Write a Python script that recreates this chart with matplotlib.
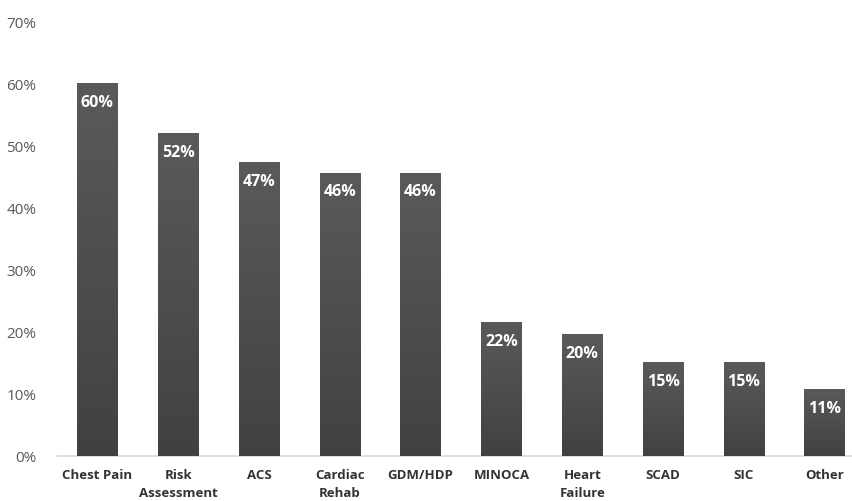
import numpy as np
import matplotlib
matplotlib.use("Agg")
import matplotlib.pyplot as plt
from matplotlib.colors import LinearSegmentedColormap

# data
categories = ["Chest Pain", "Risk\nAssessment", "ACS", "Cardiac\nRehab", "GDM/HDP",
              "MINOCA", "Heart\nFailure", "SCAD", "SIC", "Other"]
values = [60.0, 52.0, 47.3, 45.6, 45.6, 21.6, 19.6, 15.1, 15.1, 10.8]
labels = ["60%", "52%", "47%", "46%", "46%", "22%", "20%", "15%", "15%", "11%"]
yticks = [0, 10, 20, 30, 40, 50, 60, 70]

plt.rcParams['font.family'] = ['Open Sans', 'DejaVu Sans']

fig = plt.figure(figsize=(8.53, 5.02), dpi=100)
ax = fig.add_axes([57 / 853, 1 - 457 / 502, 808 / 853, 435 / 502])

x = np.arange(len(categories))
bars = ax.bar(x, values, width=0.5, color="#4d4d4d", zorder=2)

# soft vertical gradient inside each bar
cmap = LinearSegmentedColormap.from_list("g", ["#414141", "#5a5a5a"])
grad = np.linspace(0, 1, 256).reshape(-1, 1)
for b in bars:
    x0, w, h = b.get_x(), b.get_width(), b.get_height()
    im = ax.imshow(grad, cmap=cmap, aspect="auto", origin="lower",
                   extent=[x0, x0 + w, 0, h], zorder=3)
    im.set_clip_path(b)

for xi, v, lab in zip(x, values, labels):
    ax.annotate(lab, (xi, v), xytext=(0, -13.5), textcoords="offset points",
                ha="center", va="center", color="white", fontsize=11.5,
                fontweight="bold", zorder=4)

ax.set_xlim(-0.5, len(categories) - 0.5)
ax.set_ylim(0, 70)
ax.set_yticks(yticks)
ax.set_yticklabels([f"{t}%" for t in yticks], color="#595959", fontsize=11)
ax.set_xticks(x)
ax.set_xticklabels(categories, fontsize=9.5, fontweight="bold", color="#333333",
                   linespacing=1.45)
ax.tick_params(axis="both", length=0)
ax.tick_params(axis="x", pad=9)
ax.tick_params(axis="y", pad=15)

for s in ["top", "right", "left"]:
    ax.spines[s].set_visible(False)
ax.spines["bottom"].set_color("#d9d9d9")
ax.spines["bottom"].set_linewidth(1.2)

fig.savefig("out.png", dpi=100)
